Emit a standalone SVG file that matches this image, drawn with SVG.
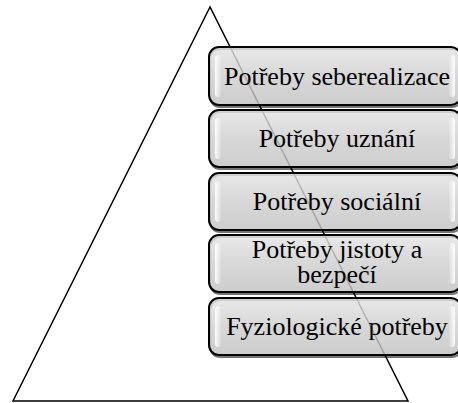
<svg xmlns="http://www.w3.org/2000/svg" width="458" height="403" viewBox="0 0 458 403">
<defs>
<linearGradient id="g" x1="0" y1="0" x2="0" y2="1">
<stop offset="0" stop-color="#e4e4e4"/>
<stop offset="0.5" stop-color="#cfcfcf"/>
<stop offset="1" stop-color="#c2c2c2"/>
</linearGradient>
<linearGradient id="hl" x1="0" y1="0" x2="1" y2="0">
<stop offset="0" stop-color="#ffffff" stop-opacity="0.95"/>
<stop offset="1" stop-color="#ffffff" stop-opacity="0.1"/>
</linearGradient>
<linearGradient id="hr" x1="1" y1="0" x2="0" y2="0">
<stop offset="0" stop-color="#ffffff" stop-opacity="0.95"/>
<stop offset="1" stop-color="#ffffff" stop-opacity="0.1"/>
</linearGradient>
</defs>
<style>
.box{fill:url(#g);fill-opacity:0.82;stroke:#000;stroke-width:2}
.shadow{fill:none;stroke:#000;stroke-width:2;opacity:0.55}
.hl{fill:url(#hl)}
.hr{fill:url(#hr)}
.t{font-size:26px;fill:#000;text-anchor:middle}
.tri{fill:none;stroke:#000;stroke-width:1.5}
</style>
<rect width="458" height="403" fill="#fff"/>
<g id="connectors">
<path class="tri" d="M210,7 L13,401 L408,401 Z"/>
</g>
<g font-family="'Liberation Serif', 'DejaVu Serif', serif">
<g id="n1">
<rect class="shadow" x="210" y="49" width="252" height="58" rx="10"/>
<rect class="box" x="209" y="47" width="252" height="58" rx="10"/>
<rect class="hl" x="215" y="55" width="6" height="42" rx="3"/>
<rect class="hr" x="449" y="55" width="6" height="42" rx="3"/>
<text class="t" x="337" y="85">Potřeby seberealizace</text>
</g>
<g id="n2">
<rect class="shadow" x="210" y="112" width="252" height="57" rx="10"/>
<rect class="box" x="209" y="110" width="252" height="57" rx="10"/>
<rect class="hl" x="215" y="118" width="6" height="41" rx="3"/>
<rect class="hr" x="449" y="118" width="6" height="41" rx="3"/>
<text class="t" x="337" y="147">Potřeby uznání</text>
</g>
<g id="n3">
<rect class="shadow" x="210" y="175" width="252" height="57" rx="10"/>
<rect class="box" x="209" y="173" width="252" height="57" rx="10"/>
<rect class="hl" x="215" y="181" width="6" height="41" rx="3"/>
<rect class="hr" x="449" y="181" width="6" height="41" rx="3"/>
<text class="t" x="337" y="210">Potřeby sociální</text>
</g>
<g id="n4">
<rect class="shadow" x="210" y="237" width="252" height="57" rx="10"/>
<rect class="box" x="209" y="235" width="252" height="57" rx="10"/>
<rect class="hl" x="215" y="243" width="6" height="41" rx="3"/>
<rect class="hr" x="449" y="243" width="6" height="41" rx="3"/>
<text class="t" x="337" y="258">Potřeby jistoty a</text>
<text class="t" x="337" y="283">bezpečí</text>
</g>
<g id="n5">
<rect class="shadow" x="210" y="300" width="252" height="57" rx="10"/>
<rect class="box" x="209" y="298" width="252" height="57" rx="10"/>
<rect class="hl" x="215" y="306" width="6" height="41" rx="3"/>
<rect class="hr" x="449" y="306" width="6" height="41" rx="3"/>
<text class="t" x="337" y="335">Fyziologické potřeby</text>
</g>
</g>
</svg>
